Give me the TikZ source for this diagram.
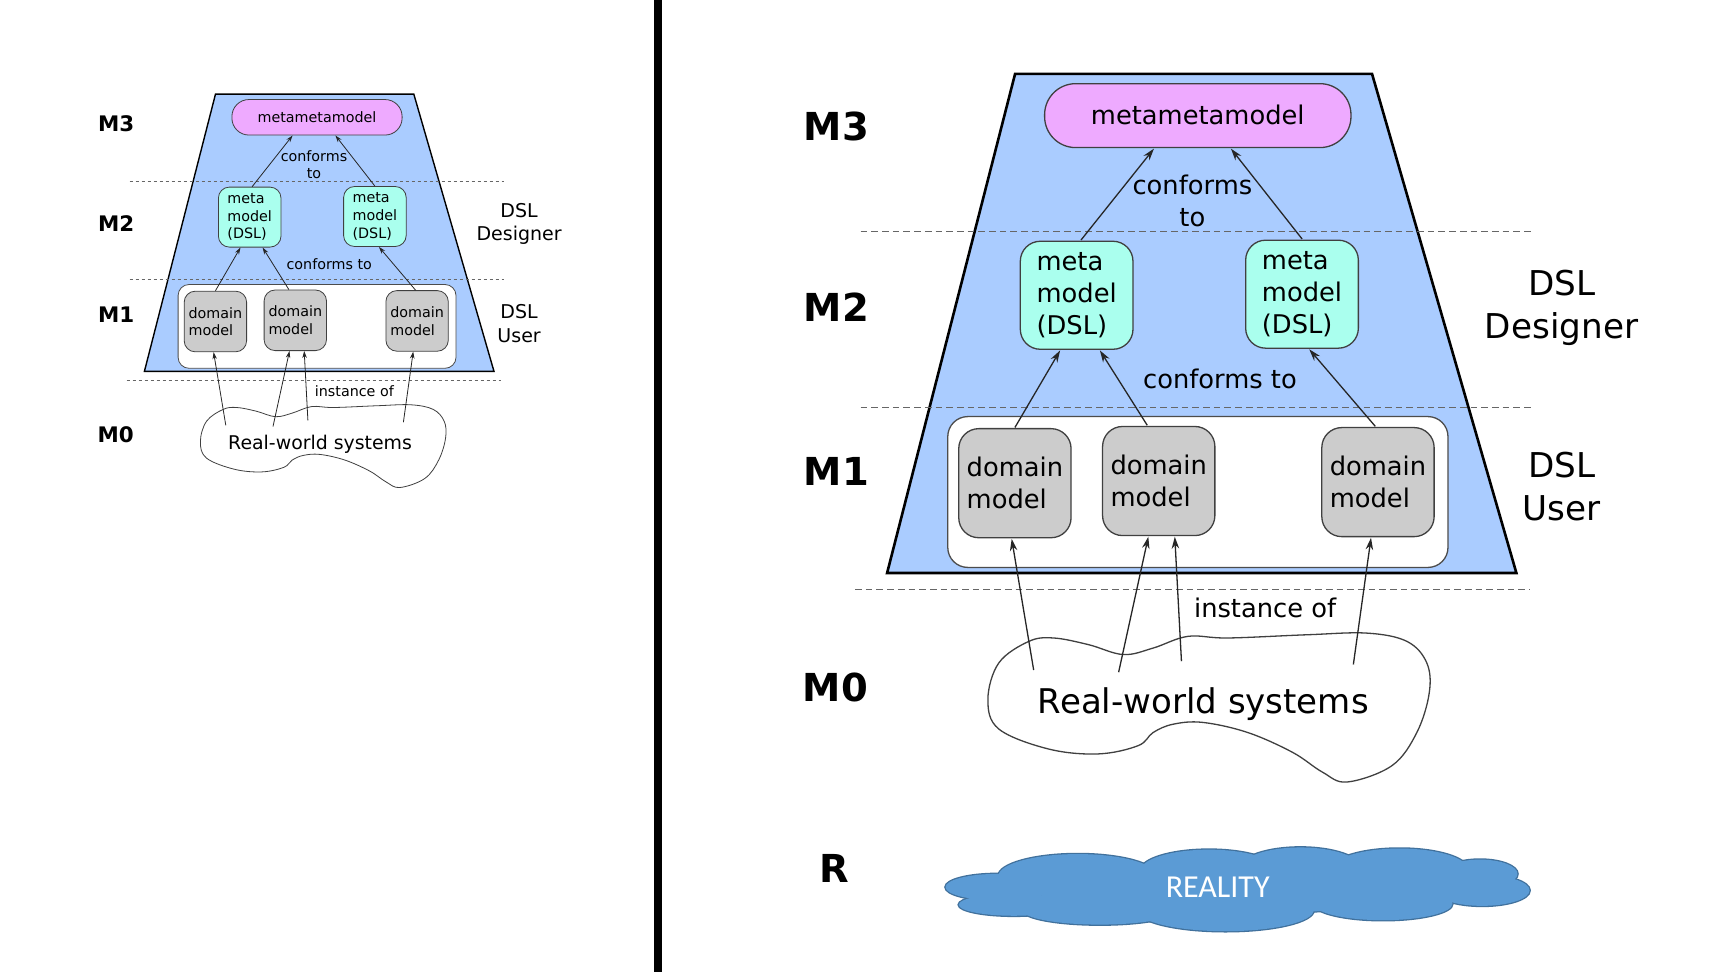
\documentclass[tikz,border=0pt]{standalone}
\usepackage{fontspec}
\setmainfont{DejaVu Sans}
\newfontfamily\calfont{Carlito}
\usetikzlibrary{arrows.meta,calc}
\definecolor{trapfill}{HTML}{AACCFF}
\definecolor{mmmfill}{HTML}{EEAAFF}
\definecolor{metafill}{HTML}{AAFFEE}
\definecolor{domfill}{HTML}{CCCCCC}
\definecolor{dashgray}{HTML}{666666}
\definecolor{cloudfill}{HTML}{5B9BD5}
\definecolor{cloudline}{HTML}{41719C}
\tikzset{
  smalltxt/.style={font=\fontsize{14.3}{17.6}\selectfont},
  mbox/.style={draw=black!75, thinw, inner sep=0pt, align=left, smalltxt, rcsmall},
  metabox/.style={mbox, fill=metafill, minimum width=62.6pt, minimum height=60pt},
  dombox/.style={mbox, fill=domfill, minimum width=62.4pt, minimum height=60.6pt},
  levlab/.style={font=\bfseries\fontsize{21.4}{25}\selectfont},
  rolelab/.style={align=center, font=\fontsize{19}{23.9}\selectfont},
  arr/.style={draw=black!85, thinw, tipst},
}
\newcommand\megadiagram{%
  \draw[trapst, fill=trapfill] (0,0) -- (71.1,-277.3) -- (269.4,-277.3) -- (349.6,0) -- cycle;
  \draw[dashst] (-14.7,-189.8) -- (359.4,-189.8);
  \draw[dashst] (-14.7,-91.8) -- (359.4,-91.8);
  \draw[dashst] (-17.8,9.2) -- (356.9,9.2);
  \draw[draw=black!70, thinw, fill=white, rcsmall] (33.7,-86.9) rectangle (311.6,-3.1);
  \node[mbox, fill=mmmfill, minimum width=170.2pt, minimum height=35.5pt, rcbig, align=center] (mmm) at (172.6,-254.1) {\raisebox{1.2pt}{metametamodel}};
  \node[metabox] (mL) at (105.3,-154.3) {meta\\model\\(DSL)};
  \node[metabox] (mR) at (230.5,-154.9) {meta\\model\\(DSL)};
  \node[dombox] (d1) at (71,-49.9) {domain\\model};
  \node[dombox] (d2) at (150.9,-51.1) {domain\\model};
  \node[dombox] (d3) at (272.7,-50.5) {domain\\model};
  \node[smalltxt, align=center] (cf1) at (169.6,-206.6) {conforms\\to};
  \node[smalltxt] (cf2) at (184.9,-107.7) {conforms to};
  \node[smalltxt] (inst) at (210,19.6) {instance of};
  \draw[blobst] plot[smooth cycle, tension=0.6] coordinates {
    (56.0,70.2) (62.1,49.9) (78.7,38.0) (92.5,36.1) (111.9,39.8) (131.2,45.3)
    (147.8,41.7) (167.1,35.2) (189.3,36.1) (233.5,34.3) (266.7,33.4) (288.8,38.0)
    (299.8,49.9) (301.2,66.5) (294.3,88.6) (280.5,107.0) (255.6,116.1) (241.8,110.6)
    (225.2,99.6) (200.3,88.6) (175.4,83.0) (158.9,84.0) (147.8,88.6) (139.5,95.9)
    (117.4,100.5) (89.8,97.8) (62.1,86.7)};
  \node[font=\fontsize{18.9}{22}\selectfont] (rws) at (175.7,72.6) {Real-world systems};
  \draw[arr] ($(mL.north)+(2.4,0)$) -- ($(mmm.south)+(-24.4,0)$);
  \draw[arr] (mR.north) -- ($(mmm.south)+(18.4,0)$);
  \draw[arr] (d1.north) -- ($(mL.south)+(-9.2,0)$);
  \draw[arr] ($(d2.north)+(-6.4,0)$) -- ($(mL.south)+(12.9,0)$);
  \draw[arr] ($(d3.north)+(-1.5,0)$) -- ($(mR.south)+(4.0,0)$);
  \draw[arr] ($(rws.center)+(-94.3,-18.7)$) -- ($(d1.south)+(-1.8,0)$);
  \draw[arr] ($(rws.center)+(-47.1,-17.5)$) -- ($(d2.south)+(-5.8,0)$);
  \draw[arr] ($(rws.center)+(-12.2,-23.6)$) -- ($(d2.south)+(8.9,0)$);
  \draw[arr] ($(rws.center)+(83.3,-21.8)$) -- ($(d3.south)+(-3.9,0)$);
  \node[levlab] (m3) at (-28.2,-247.9) {M3};
  \node[levlab] (m2) at (-28.2,-147.5) {M2};
  \node[levlab] (m1) at (-28.2,-56.3) {M1};
  \node[levlab] (m0) at (-28.8,63.7) {M0};
  \node[rolelab] (dsld) at (374.7,-147.5) {DSL\\Designer};
  \node[rolelab] (dslu) at (374.7,-48.0) {DSL\\User};
}
\begin{document}
\begin{tikzpicture}[x=1pt,y=-1pt]
\useasboundingbox (0,0) rectangle (1728,972);
\fill[white] (0,0) rectangle (1728,972);
\draw[line width=8.3pt] (658.2,0) -- (658.2,972);
\begin{scope}[shift={(144.4,371.4)}, name prefix=L-,
  thinw/.style={line width=0.8pt},
  trapst/.style={line width=1.4pt},
  tipst/.style={-{Stealth[length=7pt,width=4.5pt]}},
  dashst/.style={draw=dashgray, line width=0.7pt, dash pattern=on 3.7pt off 2.3pt},
  blobst/.style={draw=black!75, line width=0.8pt},
  rcsmall/.style={rounded corners=11pt},
  rcbig/.style={rounded corners=17pt}]
  \megadiagram
\end{scope}
\begin{scope}[shift={(887.1,573.0)}, scale=1.8, transform shape, name prefix=R-,
  thinw/.style={line width=1.3pt},
  trapst/.style={line width=2.6pt},
  tipst/.style={-{Stealth[length=12pt,width=7.5pt]}},
  dashst/.style={draw=dashgray, line width=1.2pt, dash pattern=on 6.7pt off 4pt},
  blobst/.style={draw=black!75, line width=1.3pt},
  rcsmall/.style={rounded corners=20pt},
  rcbig/.style={rounded corners=31pt}]
  \megadiagram
\end{scope}
\node[font=\bfseries\fontsize{38.5}{40}\selectfont] (rlab) at (834.2,868.4) {R};
\begin{scope}[scale=1.102]
  \foreach \cx/\cy/\rx/\ry in {905/805/47/12, 920/821/50/10, 978/795/72/20, 998/826/70/13,
     1097/790/62/19, 1180/788/55/19, 1270/789/62/19, 1343/793/34/13, 1345/808/43/14,
     1255/820/63/15, 1112/826/80/19, 1110/808/165/22, 1300/805/30/12}
    \draw[cloudline, line width=2.6pt] (\cx,\cy) ellipse [x radius=\rx, y radius=\ry];
  \foreach \cx/\cy/\rx/\ry in {905/805/47/12, 920/821/50/10, 978/795/72/20, 998/826/70/13,
     1097/790/62/19, 1180/788/55/19, 1270/789/62/19, 1343/793/34/13, 1345/808/43/14,
     1255/820/63/15, 1112/826/80/19, 1110/808/165/22, 1300/805/30/12}
    \fill[cloudfill] (\cx,\cy) ellipse [x radius=\rx, y radius=\ry];
\end{scope}
\node[text=white, font=\calfont\fontsize{32}{34}\selectfont] (reality) at (1217.7,887.1) {REALITY};
\end{tikzpicture}
\end{document}
